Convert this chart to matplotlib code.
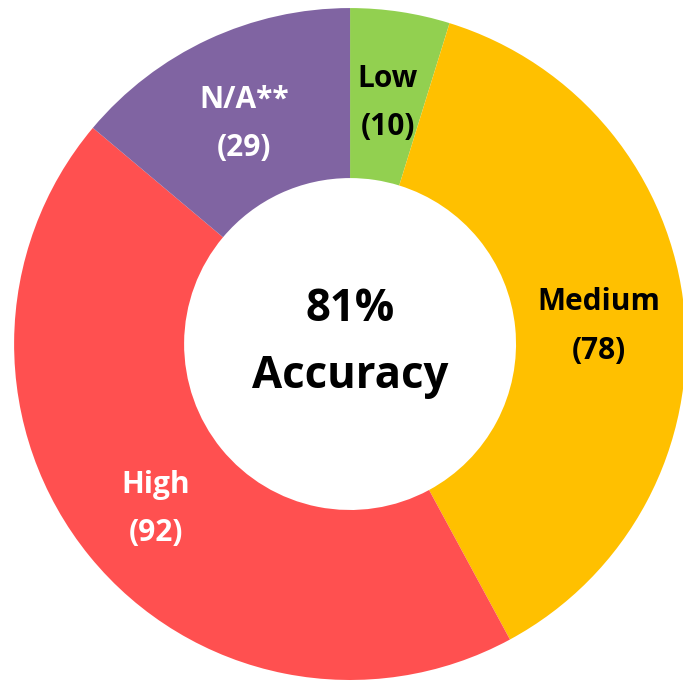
import numpy as np
import matplotlib.pyplot as plt

# data
categories = ['Low', 'Medium', 'High', 'N/A**']
counts = [10, 78, 92, 29]
colors = ['#92D050', '#FFC000', '#FF5050', '#8064A2']
text_colors = ['black', 'black', 'white', 'white']
center_text = '81%\nAccuracy'

plt.rcParams['font.family'] = ['Open Sans', 'DejaVu Sans']

fig = plt.figure(figsize=(6.83, 6.81), dpi=100)
ax = fig.add_axes([0, 0, 1, 1])

wedges, _ = ax.pie(counts, colors=colors, startangle=90, counterclock=False,
                   radius=1.0, wedgeprops=dict(width=0.506, edgecolor='none'))

# labels at the middle of each wedge, dropped a little
label_r = 0.745
label_dy = -0.02
for w, cat, n, tc in zip(wedges, categories, counts, text_colors):
    mid = np.deg2rad((w.theta1 + w.theta2) / 2)
    x, y = label_r * np.cos(mid), label_r * np.sin(mid) + label_dy
    ax.text(x, y, f'{cat}\n({n})', ha='center', va='center', color=tc,
            fontsize=21.5, fontweight='bold', linespacing=1.8)

ax.text(0, 0.004, center_text, ha='center', va='center', fontsize=31.5,
        fontweight='bold', color='black', linespacing=1.65)

ax.set_xlim(-1.042, 0.991)
ax.set_ylim(-1.003, 1.024)
ax.set_aspect('auto')
ax.axis('off')

plt.savefig('out.png', dpi=100, facecolor='white')
